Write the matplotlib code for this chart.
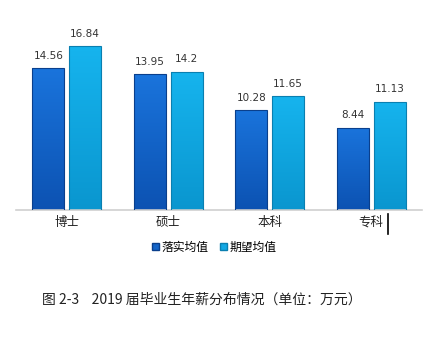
import numpy as np
import matplotlib.pyplot as plt
from matplotlib.colors import LinearSegmentedColormap
from matplotlib.lines import Line2D

plt.rcParams['font.family'] = ['Noto Sans CJK SC', 'DejaVu Sans']

categories = ['博士', '硕士', '本科', '专科']
actual = [14.56, 13.95, 10.28, 8.44]
expected = [16.84, 14.2, 11.65, 11.13]
series_names = ['落实均值', '期望均值']

W, H = 427, 349
fig = plt.figure(figsize=(W / 100, H / 100), dpi=100)
ax = fig.add_axes([16 / W, 1 - 210 / H, 406 / W, 190 / H])

x = np.arange(len(categories))
bw = 0.315
off = 0.35
dark = LinearSegmentedColormap.from_list('d', ['#0c52b2', '#1a74dc'])
light = LinearSegmentedColormap.from_list('l', ['#0a96cf', '#16b4ee'])

grad = np.linspace(0, 1, 256).reshape(-1, 1)
for vals, dx, cmap, edge in [(actual, -off / 2 - 0.005, dark, '#0a3f8c'),
                             (expected, off / 2 + 0.005, light, '#0a7fb0')]:
    bars = ax.bar(x + dx, vals, width=bw, color='none', edgecolor=edge, linewidth=0.8, zorder=3)
    for b, v in zip(bars, vals):
        x0, w = b.get_x(), b.get_width()
        im = ax.imshow(grad, cmap=cmap, origin='lower', aspect='auto',
                       extent=[x0, x0 + w, 0, v], zorder=2)
        im.set_clip_path(b)
        ax.text(x0 + w / 2, v + 0.75, f'{v:g}', ha='center', va='bottom',
                fontsize=7.5, color='#333333', family='DejaVu Sans')

ax.set_xlim(-0.5, len(categories) - 0.5)
ax.set_ylim(0, 19.5)
ax.set_xticks(x)
ax.set_xticklabels(categories, fontsize=9, color='#222222')
ax.tick_params(axis='x', length=0, pad=4)
ax.set_yticks([])
for s in ['top', 'right', 'left']:
    ax.spines[s].set_visible(False)
ax.spines['bottom'].set_color('#d0d0d0')
ax.spines['bottom'].set_linewidth(1.2)

handles = [plt.Rectangle((0, 0), 1, 1, fc='#1565c8', ec='#0a3f8c'),
           plt.Rectangle((0, 0), 1, 1, fc='#12a8e4', ec='#0a7fb0')]
fig.legend(handles, series_names, loc='center', bbox_to_anchor=(214 / W, 1 - 247 / H),
           ncol=2, frameon=False, fontsize=8.5, handlelength=0.6, handleheight=0.6,
           handletextpad=0.2, columnspacing=1.0)

# cursor mark beside the last label
fig.add_artist(Line2D([388 / W, 388 / W], [1 - 214 / H, 1 - 234 / H], color='black', lw=1.2))

fig.text(202 / W, 1 - 300 / H, '图 2-3    2019 届毕业生年薪分布情况（单位：万元）',
         ha='center', va='center', fontsize=10, color='#222222')

fig.savefig('out.png', dpi=100)
